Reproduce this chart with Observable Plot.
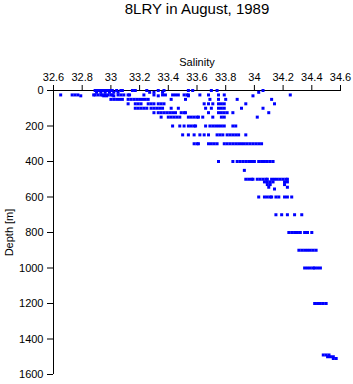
<!DOCTYPE html>
<html>
<head>
<meta charset="utf-8">
<script src="https://cdn.jsdelivr.net/npm/d3@7"></script>
<script src="https://cdn.jsdelivr.net/npm/@observablehq/plot@0.6"></script>
<style>
  html, body { margin: 0; padding: 0; background: #fff; }
  #chart svg { display: block; }
</style>
</head>
<body>
<div id="chart"></div>
<script>
// Depth levels (m) and salinity readings at each level
const title = "8LRY in August, 1989";
const xTicks = [32.6, 32.8, 33.0, 33.2, 33.4, 33.6, 33.8, 34.0, 34.2, 34.4, 34.6];
const yTicks = [0, 200, 400, 600, 800, 1000, 1200, 1400, 1600];

const levels = [0, 10, 25, 30, 50, 75, 100, 125, 150, 200, 250, 300, 400, 450, 500, 515, 530, 545, 555, 600, 700, 800, 900, 1000, 1200, 1490, 1500, 1510];

const s0 = [32.89, 32.90, 32.91, 32.92, 32.93, 32.94, 32.95, 32.96, 32.97, 32.98, 32.99, 33.00, 33.01, 33.04, 33.07, 33.08, 33.15, 33.17, 33.25, 33.33, 33.37, 33.54, 33.57, 33.70, 33.74, 34.06];
const s10 = [32.90, 32.93, 32.96, 32.99, 33.02, 33.05, 33.27, 33.30, 33.36, 34.03];
const s25 = [32.65, 32.73, 32.75, 32.77, 32.88, 32.89, 32.91, 32.93, 32.94, 32.96, 32.98, 33.00, 33.01, 33.05, 33.07, 33.09, 33.12, 33.13, 33.23, 33.30, 33.36, 33.38, 33.43, 33.45, 33.47, 33.51, 33.53, 33.54, 33.62, 33.68, 33.75, 33.79, 34.25];
const s30 = [32.79, 32.95, 32.97, 33.02, 33.33, 33.54, 33.99];
const s50 = [33.00, 33.02, 33.04, 33.06, 33.08, 33.12, 33.14, 33.16, 33.18, 33.20, 33.22, 33.24, 33.26, 33.42, 33.52, 33.69, 33.75, 33.80, 33.88, 34.12];
const s75 = [33.12, 33.17, 33.19, 33.21, 33.26, 33.28, 33.30, 33.33, 33.35, 33.37, 33.65, 33.68, 33.71, 33.75, 33.77, 33.79, 33.94, 34.14];
const s100 = [33.17, 33.19, 33.21, 33.23, 33.25, 33.28, 33.30, 33.32, 33.34, 33.36, 33.42, 33.47, 33.66, 33.70, 33.75, 33.77, 33.79, 33.91, 34.06];
const s125 = [33.30, 33.33, 33.35, 33.37, 33.39, 33.41, 33.43, 33.45, 33.49, 33.51, 33.52, 33.68, 33.75, 33.77, 33.79, 33.81, 33.85, 34.10];
const s150 = [33.35, 33.40, 33.42, 33.44, 33.46, 33.48, 33.54, 33.56, 33.58, 33.60, 33.61, 33.64, 33.71, 33.77, 33.79, 34.02];
const s200 = [33.43, 33.48, 33.51, 33.54, 33.56, 33.58, 33.59, 33.66, 33.69, 33.71, 33.73, 33.75, 33.77, 33.79, 33.85, 33.87];
const s250 = [33.50, 33.54, 33.58, 33.62, 33.65, 33.68, 33.74, 33.76, 33.78, 33.81, 33.83, 33.85, 33.87, 33.89, 33.94];
const s300 = [33.58, 33.60, 33.61, 33.68, 33.70, 33.72, 33.74, 33.79, 33.81, 33.83, 33.85, 33.87, 33.89, 33.91, 33.93, 33.95, 33.97, 33.99, 34.01, 34.03, 34.05];
const s400 = [33.75, 33.85, 33.88, 33.90, 33.92, 33.94, 33.96, 33.98, 34.00, 34.03, 34.05, 34.07, 34.09, 34.11, 34.13];
const s450 = [33.93];
const s500 = [33.94, 33.96, 33.98, 33.99, 34.02, 34.04, 34.06, 34.08, 34.09, 34.12, 34.14, 34.16, 34.18, 34.20, 34.22, 34.23];
const s515 = [34.07, 34.09, 34.11, 34.13, 34.21, 34.23];
const s530 = [34.09, 34.11, 34.21];
const s545 = [34.10, 34.23];
const s555 = [34.14];
const s600 = [34.03, 34.07, 34.09, 34.11, 34.12, 34.15, 34.17, 34.21, 34.23, 34.26];
const s700 = [34.15, 34.19, 34.23, 34.28, 34.33];
const s800 = [34.24, 34.26, 34.28, 34.30, 34.32, 34.35, 34.37, 34.40];
const s900 = [34.31, 34.33, 34.35, 34.37, 34.39, 34.41, 34.43];
const s1000 = [34.35, 34.37, 34.39, 34.41, 34.42, 34.44, 34.46];
const s1200 = [34.42, 34.44, 34.46, 34.48, 34.50];
const s1490 = [34.48, 34.50, 34.52];
const s1500 = [34.51, 34.53, 34.55];
const s1510 = [34.55, 34.57];

const salinities = [s0, s10, s25, s30, s50, s75, s100, s125, s150, s200, s250, s300, s400, s450, s500, s515, s530, s545, s555, s600, s700, s800, s900, s1000, s1200, s1490, s1500, s1510];

const rows = levels.flatMap((d, i) => salinities[i].map(s => ({depth: d, salinity: s})));

const fmt = d => String(+d.toFixed(1));

const chart = Plot.plot({
  width: 353,
  height: 384,
  marginLeft: 53,
  marginRight: 13,
  marginTop: 90,
  marginBottom: 10,
  style: {fontFamily: "'Liberation Sans', Arial, sans-serif", fontSize: "11px", color: "#000", background: "#fff"},
  x: {domain: [32.6, 34.6], axis: "top", ticks: xTicks, tickFormat: fmt, tickSize: 6, tickPadding: 4,
      label: "Salinity", labelAnchor: "center", labelArrow: "none", labelOffset: 32},
  y: {domain: [0, 1600], reverse: true, ticks: yTicks, tickFormat: d => String(d), tickSize: 6, tickPadding: 4,
      label: "Depth [m]", labelAnchor: "center", labelArrow: "none", labelOffset: 48},
  marks: [
    Plot.ruleY([0], {stroke: "#000"}),
    Plot.ruleX([32.6], {stroke: "#000"}),
    Plot.dot(rows, {x: "salinity", y: "depth", symbol: "square", r: 1.7, fill: "#0000ff", stroke: null}),
    Plot.text([title], {frameAnchor: "top", dy: -77, fontSize: 15, fill: "#000", lineAnchor: "bottom"})
  ]
});
document.getElementById("chart").appendChild(chart);
</script>
</body>
</html>
